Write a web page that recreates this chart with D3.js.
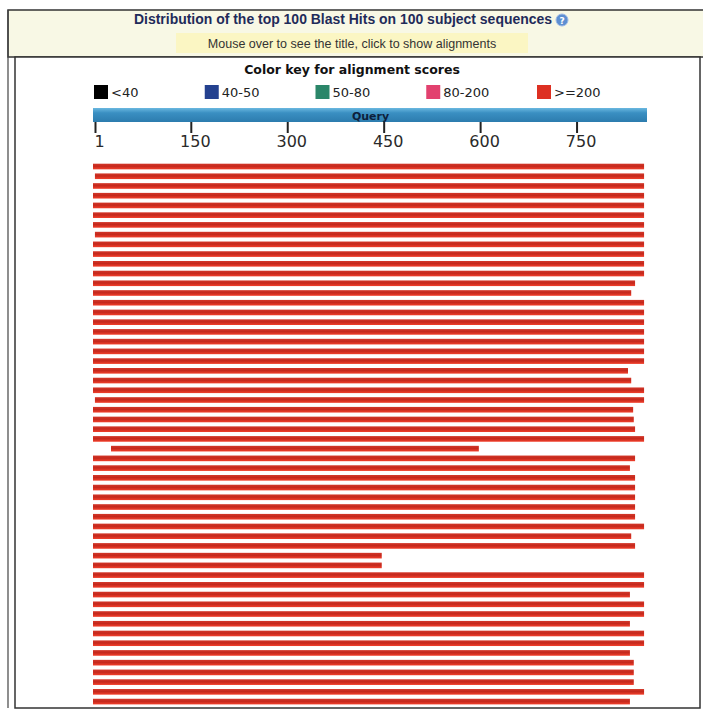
<!DOCTYPE html>
<html>
<head>
<meta charset="utf-8">
<script src="https://cdn.jsdelivr.net/npm/d3@7"></script>
<style>
  html, body { margin: 0; padding: 0; background: #fff; }
  svg { display: block; }
</style>
</head>
<body>
<svg id="chart" width="703" height="711"></svg>
<script>
// score bins used by the colour key
const scoreBins   = ['<40', '40-50', '50-80', '80-200', '>=200'];
const scoreColors = ['#000000', '#24418f', '#2b8669', '#e2416f', '#dd3022'];

const queryLength = 858;
const queryTicks  = [1, 150, 300, 450, 600, 750];

// one entry per visible hit row, top to bottom (query coordinates)
const hitStart = [
  1, 4, 1, 1, 1, 1, 1, 4, 1, 1, 1, 1, 1, 1,
  1, 1, 1, 1, 1, 1, 1, 1, 1, 1, 4, 1, 1, 1,
  1, 29, 1, 1, 1, 1, 1, 1, 1, 1, 1, 1, 1, 1,
  1, 1, 1, 1, 1, 1, 1, 1, 1, 1, 1, 1, 1, 1
];
const hitEnd = [
  855, 855, 855, 855, 855, 855, 855, 855, 855, 855, 855, 855, 841, 835,
  855, 855, 855, 855, 855, 855, 855, 830, 835, 855, 855, 838, 839, 841,
  855, 598, 841, 833, 841, 841, 841, 841, 841, 855, 835, 841, 447, 447,
  855, 855, 833, 855, 855, 833, 855, 855, 833, 839, 839, 839, 855, 833
];
const hitBin = [
  '>=200', '>=200', '>=200', '>=200', '>=200', '>=200', '>=200', '>=200', '>=200', '>=200', '>=200', '>=200', '>=200', '>=200',
  '>=200', '>=200', '>=200', '>=200', '>=200', '>=200', '>=200', '>=200', '>=200', '>=200', '>=200', '>=200', '>=200', '>=200',
  '>=200', '>=200', '>=200', '>=200', '>=200', '>=200', '>=200', '>=200', '>=200', '>=200', '>=200', '>=200', '>=200', '>=200',
  '>=200', '>=200', '>=200', '>=200', '>=200', '>=200', '>=200', '>=200', '>=200', '>=200', '>=200', '>=200', '>=200', '>=200'
];

const svg = d3.select('#chart');
const defs = svg.append('defs');

const qGrad = defs.append('linearGradient').attr('id', 'qgrad')
    .attr('x1', 0).attr('x2', 0).attr('y1', 0).attr('y2', 1);
qGrad.append('stop').attr('offset', '0%').attr('stop-color', '#6ab8e0');
qGrad.append('stop').attr('offset', '35%').attr('stop-color', '#3a8fc2');
qGrad.append('stop').attr('offset', '100%').attr('stop-color', '#2c7cae');

// hit bars: darker core, brighter lower edge
const hGrad = defs.append('linearGradient').attr('id', 'hgrad')
    .attr('x1', 0).attr('x2', 0).attr('y1', 0).attr('y2', 1);
hGrad.append('stop').attr('offset', '0%').attr('stop-color', '#d4382a');
hGrad.append('stop').attr('offset', '45%').attr('stop-color', '#c4281c');
hGrad.append('stop').attr('offset', '100%').attr('stop-color', '#f2402c');

// ---- frame + header strip
svg.append('rect')
    .attr('x', 8).attr('y', 10).attr('width', 700).attr('height', 47)
    .attr('fill', '#f8f8e5').attr('stroke', '#333').attr('stroke-width', 1.5);

svg.append('line')
    .attr('x1', 8).attr('x2', 8).attr('y1', 10).attr('y2', 708)
    .attr('stroke', '#444').attr('stroke-width', 1.2);

svg.append('rect')
    .attr('x', 15).attr('y', 57).attr('width', 685).attr('height', 651)
    .attr('fill', '#fff').attr('stroke', '#333').attr('stroke-width', 1.5);

svg.append('text')
    .attr('x', 134).attr('y', 24)
    .attr('textLength', 418).attr('lengthAdjust', 'spacingAndGlyphs')
    .attr('font-family', '"Liberation Sans", Arial, sans-serif')
    .attr('font-size', 14).attr('font-weight', 'bold')
    .attr('fill', '#1f2b5a')
    .text('Distribution of the top 100 Blast Hits on 100 subject sequences');

svg.append('circle')
    .attr('cx', 562).attr('cy', 20).attr('r', 6)
    .attr('fill', '#5d8fd2').attr('stroke', '#9db9e6').attr('stroke-width', 1);
svg.append('text')
    .attr('x', 562).attr('y', 24).attr('text-anchor', 'middle')
    .attr('font-family', '"DejaVu Sans", sans-serif')
    .attr('font-size', 9).attr('font-weight', 'bold').attr('fill', '#fff')
    .text('?');

svg.append('rect')
    .attr('x', 176).attr('y', 33).attr('width', 352).attr('height', 20)
    .attr('fill', '#fbf6c3');
svg.append('text')
    .attr('x', 352).attr('y', 48).attr('text-anchor', 'middle')
    .attr('font-family', '"Liberation Sans", Arial, sans-serif')
    .attr('font-size', 12.5).attr('fill', '#333')
    .text('Mouse over to see the title, click to show alignments');

// ---- colour key
svg.append('text')
    .attr('x', 352).attr('y', 74).attr('text-anchor', 'middle')
    .attr('font-family', '"DejaVu Sans", Verdana, sans-serif')
    .attr('font-size', 12.5).attr('font-weight', 'bold').attr('fill', '#111')
    .text('Color key for alignment scores');

const color = d3.scaleOrdinal().domain(scoreBins).range(scoreColors);
const keyX = d3.scalePoint().domain(scoreBins).range([94, 537]);

const key = svg.append('g').selectAll('g')
    .data(scoreBins)
    .join('g')
    .attr('transform', d => `translate(${keyX(d)},85)`);

key.append('rect')
    .attr('width', 14).attr('height', 14)
    .attr('fill', d => color(d));

key.append('text')
    .attr('x', 17).attr('y', 12)
    .attr('font-family', '"DejaVu Sans", Verdana, sans-serif')
    .attr('font-size', 13).attr('fill', '#222')
    .text(d => d);

// ---- query bar + axis
const x = d3.scaleLinear().domain([1, queryLength]).range([95, 646]);

svg.append('rect')
    .attr('x', x(1) - 2).attr('y', 108)
    .attr('width', x(queryLength) - x(1) + 3).attr('height', 14)
    .attr('fill', 'url(#qgrad)');

svg.append('text')
    .attr('x', (x(1) + x(queryLength)) / 2).attr('y', 120)
    .attr('text-anchor', 'middle')
    .attr('font-family', '"DejaVu Sans", Verdana, sans-serif')
    .attr('font-size', 11).attr('font-weight', 'bold').attr('fill', '#0d1f3c')
    .text('Query');

const axis = svg.append('g')
    .attr('transform', 'translate(0,122)')
    .call(d3.axisBottom(x).tickValues(queryTicks).tickSize(11).tickPadding(3));

axis.select('.domain').remove();
axis.selectAll('.tick line').attr('stroke', '#222').attr('stroke-width', 2);
axis.selectAll('.tick text')
    .attr('dx', 4)
    .attr('fill', '#2a2a2a')
    .attr('font-family', '"DejaVu Sans", Verdana, sans-serif')
    .attr('font-size', 16);

// ---- hit rows (drawn from 2px left of the start position, as in the original)
const rows = d3.range(hitEnd.length);
const y = d3.scaleBand().domain(rows).range([163.7, 704.4]).paddingInner(0.42);

svg.append('g').selectAll('rect')
    .data(rows)
    .join('rect')
    .attr('x', i => x(hitStart[i]) - 2)
    .attr('y', i => y(i))
    .attr('width', i => x(hitEnd[i]) - x(hitStart[i]) + 2)
    .attr('height', y.bandwidth())
    .attr('fill', i => hitBin[i] === '>=200' ? 'url(#hgrad)' : color(hitBin[i]));
</script>
</body>
</html>
